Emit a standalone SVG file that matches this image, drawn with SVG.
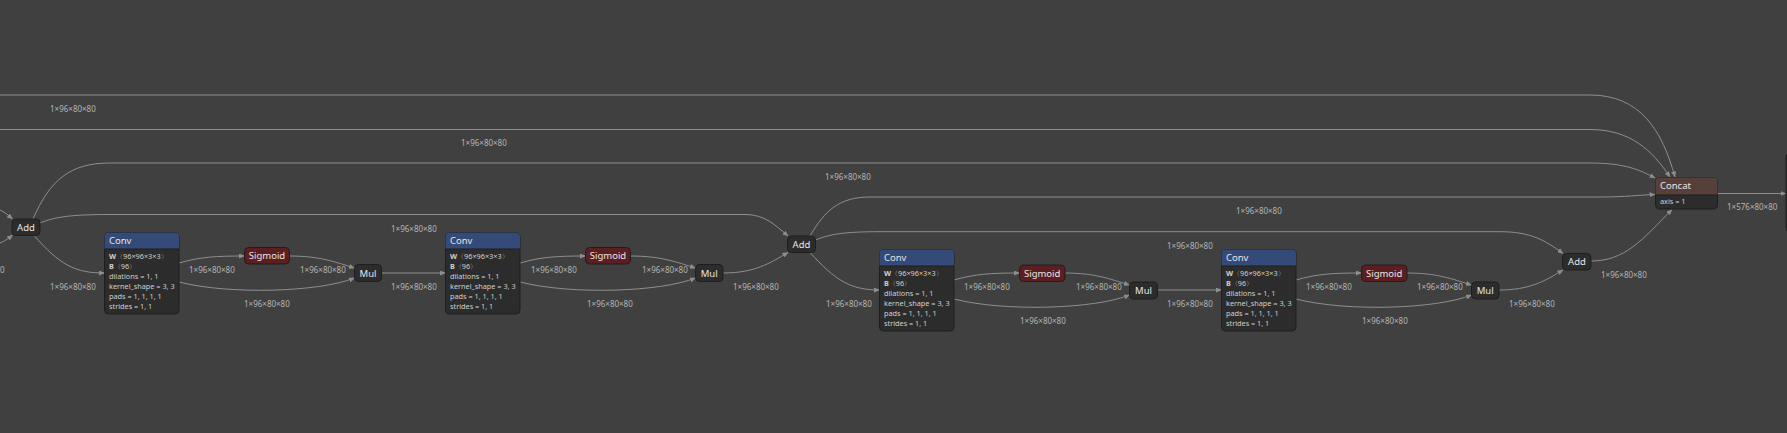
<svg xmlns="http://www.w3.org/2000/svg" width="1787" height="433" viewBox="0 0 1787 433">
<defs>
<marker id="arr" markerWidth="6" markerHeight="5" refX="5.5" refY="2.5" orient="auto" markerUnits="userSpaceOnUse">
<path d="M0,0 L6,2.5 L0,5 Z" fill="#8e8e8e"/>
</marker>
</defs>
<style>
.bg{fill:#404040}
.e{fill:none;stroke:#8e8e8e;stroke-width:1;marker-end:url(#arr)}
.lbl{font-family:"Noto Sans","DejaVu Sans",sans-serif;font-size:8px;fill:#b4b4b4}
.nb{fill:#2c2c2c;stroke:#1e1e1e;stroke-width:1}
.title{font-family:"Noto Sans","DejaVu Sans",sans-serif;font-size:9.5px;fill:#e6e6e6}
.attr{font-family:"Noto Sans","DejaVu Sans",sans-serif;font-size:7.3px;fill:#d0d0d0}
.b{font-weight:bold}
.conv{fill:#344a78}
.sig{fill:#5c1e20;stroke:#1e1e1e;stroke-width:1}
.cat{fill:#58403a}
.sep{stroke:#1e1e1e;stroke-width:1}
</style>
<rect class="bg" x="0" y="0" width="1787" height="433"/>

<g id="connectors">
<path class="e" d="M0,95 H1590 C1640,95 1662,130 1675,177"/>
<path class="e" d="M0,129.5 H1590 C1630,129.5 1652,150 1670,177"/>
<path class="e" d="M33,219 C50,180 70,163 110,163 H1590 C1625,163 1640,170 1655,178"/>
<path class="e" d="M810,236 C825,210 840,197 870,197 H1600 C1625,197 1640,195 1655,194.5"/>
<path class="e" d="M1591,261 C1625,261 1642,240 1672,209.5"/>
<path class="e" d="M40,223 C55,217 70,214.5 110,214.5 H745 C765,214.5 775,225 788,236"/>
<path class="e" d="M815.5,240 C830,234 845,231.7 880,231.7 H1500 C1530,231.7 1545,240 1563,253.5"/>
<path class="e" d="M0,210 C5,212 9,216 12.5,219"/>
<path class="e" d="M0,243 C5,241 9,238 12.5,235"/>
<path class="e" d="M1717.5,193.5 H1786"/>

<path class="e" d="M34,235.5 C60,265 75,273 104.5,273"/>
<path class="e" d="M179,263 C200,257 215,256 244.5,256"/>
<path class="e" d="M179,282 C230,295 320,292 354.5,278"/>
<path class="e" d="M289.5,256 C320,256 335,262 354.5,268"/>
<path class="e" d="M381.5,273 H445.5"/>

<path class="e" d="M520,263 C541,257 556,256 585.5,256"/>
<path class="e" d="M520,282 C571,295 661,292 695.5,278"/>
<path class="e" d="M630.5,256 C661,256 676,262 695.5,268"/>
<path class="e" d="M723,273 C755,273 770,263 788,252.5"/>

<path class="e" d="M810,252.5 C835,280 850,290 879.5,290"/>
<path class="e" d="M954,280 C975,274 990,273 1019.5,273"/>
<path class="e" d="M954,299 C1005,312 1095,309 1129.5,295"/>
<path class="e" d="M1065,273 C1095,273 1110,279 1129.5,285"/>
<path class="e" d="M1157.5,290 H1221.5"/>

<path class="e" d="M1296,280 C1317,274 1332,273 1361.5,273"/>
<path class="e" d="M1296,299 C1347,312 1437,309 1471.5,295"/>
<path class="e" d="M1407,273 C1437,273 1452,279 1471.5,285"/>
<path class="e" d="M1499,290 C1530,290 1545,281 1563,270"/>
</g>

<g id="labels">
<text class="lbl" x="50" y="112">1×96×80×80</text>
<text class="lbl" x="461" y="146">1×96×80×80</text>
<text class="lbl" x="825" y="180">1×96×80×80</text>
<text class="lbl" x="1236" y="214">1×96×80×80</text>
<text class="lbl" x="391" y="232">1×96×80×80</text>
<text class="lbl" x="1167" y="249">1×96×80×80</text>
<text class="lbl" x="50" y="290">1×96×80×80</text>
<text class="lbl" x="0" y="273">0</text>
<text class="lbl" x="189" y="273">1×96×80×80</text>
<text class="lbl" x="300" y="273">1×96×80×80</text>
<text class="lbl" x="244" y="307">1×96×80×80</text>
<text class="lbl" x="391" y="290">1×96×80×80</text>
<text class="lbl" x="531" y="273">1×96×80×80</text>
<text class="lbl" x="642" y="273">1×96×80×80</text>
<text class="lbl" x="587" y="307">1×96×80×80</text>
<text class="lbl" x="733" y="290">1×96×80×80</text>
<text class="lbl" x="826" y="307">1×96×80×80</text>
<text class="lbl" x="964" y="290">1×96×80×80</text>
<text class="lbl" x="1076" y="290">1×96×80×80</text>
<text class="lbl" x="1020" y="324">1×96×80×80</text>
<text class="lbl" x="1167" y="307">1×96×80×80</text>
<text class="lbl" x="1306" y="290">1×96×80×80</text>
<text class="lbl" x="1417" y="290">1×96×80×80</text>
<text class="lbl" x="1362" y="324">1×96×80×80</text>
<text class="lbl" x="1509" y="307">1×96×80×80</text>
<text class="lbl" x="1601" y="278">1×96×80×80</text>
<text class="lbl" x="1727" y="210">1×576×80×80</text>
</g>

<g id="add1"><rect class="nb" x="12" y="219" width="28" height="16.5" rx="4"/><text class="title" x="26" y="230.5" text-anchor="middle">Add</text></g>
<g id="add2"><rect class="nb" x="787.5" y="236" width="28" height="16.5" rx="4"/><text class="title" x="801.5" y="247.5" text-anchor="middle">Add</text></g>
<g id="add3"><rect class="nb" x="1562.5" y="253.5" width="28.5" height="16.5" rx="4"/><text class="title" x="1577" y="265" text-anchor="middle">Add</text></g>

<g id="conv1">
<rect class="nb" x="104.5" y="232.5" width="74.5" height="81.5" rx="4"/>
<path class="conv" d="M104.5,249 V236.5 Q104.5,232.5 108.5,232.5 H175 Q179,232.5 179,236.5 V249 Z"/>
<line class="sep" x1="104.5" y1="249" x2="179" y2="249"/>
<text class="title" x="109" y="243.5">Conv</text>
<text class="attr" x="109" y="258.5"><tspan class="b">W</tspan>〈96×96×3×3〉</text>
<text class="attr" x="109" y="268.5"><tspan class="b">B</tspan>〈96〉</text>
<text class="attr" x="109" y="278.5">dilations = 1, 1</text>
<text class="attr" x="109" y="288.5">kernel_shape = 3, 3</text>
<text class="attr" x="109" y="298.5">pads = 1, 1, 1, 1</text>
<text class="attr" x="109" y="308.5">strides = 1, 1</text>
</g>
<g id="sigmoid1"><rect class="sig" x="244.5" y="247.5" width="45" height="16.5" rx="4"/><text class="title" x="267" y="259" text-anchor="middle">Sigmoid</text></g>
<g id="mul1"><rect class="nb" x="354.5" y="264.5" width="27" height="17" rx="4"/><text class="title" x="368" y="276.5" text-anchor="middle">Mul</text></g>

<g id="conv2">
<rect class="nb" x="445.5" y="232.5" width="74.5" height="81.5" rx="4"/>
<path class="conv" d="M445.5,249 V236.5 Q445.5,232.5 449.5,232.5 H516 Q520,232.5 520,236.5 V249 Z"/>
<line class="sep" x1="445.5" y1="249" x2="520" y2="249"/>
<text class="title" x="450" y="243.5">Conv</text>
<text class="attr" x="450" y="258.5"><tspan class="b">W</tspan>〈96×96×3×3〉</text>
<text class="attr" x="450" y="268.5"><tspan class="b">B</tspan>〈96〉</text>
<text class="attr" x="450" y="278.5">dilations = 1, 1</text>
<text class="attr" x="450" y="288.5">kernel_shape = 3, 3</text>
<text class="attr" x="450" y="298.5">pads = 1, 1, 1, 1</text>
<text class="attr" x="450" y="308.5">strides = 1, 1</text>
</g>
<g id="sigmoid2"><rect class="sig" x="585.5" y="247.5" width="45" height="16.5" rx="4"/><text class="title" x="608" y="259" text-anchor="middle">Sigmoid</text></g>
<g id="mul2"><rect class="nb" x="695.5" y="264.5" width="27.5" height="17" rx="4"/><text class="title" x="709.2" y="276.5" text-anchor="middle">Mul</text></g>

<g id="conv3">
<rect class="nb" x="879.5" y="249.5" width="74.5" height="81.5" rx="4"/>
<path class="conv" d="M879.5,266 V253.5 Q879.5,249.5 883.5,249.5 H950 Q954,249.5 954,253.5 V266 Z"/>
<line class="sep" x1="879.5" y1="266" x2="954" y2="266"/>
<text class="title" x="884" y="260.5">Conv</text>
<text class="attr" x="884" y="275.5"><tspan class="b">W</tspan>〈96×96×3×3〉</text>
<text class="attr" x="884" y="285.5"><tspan class="b">B</tspan>〈96〉</text>
<text class="attr" x="884" y="295.5">dilations = 1, 1</text>
<text class="attr" x="884" y="305.5">kernel_shape = 3, 3</text>
<text class="attr" x="884" y="315.5">pads = 1, 1, 1, 1</text>
<text class="attr" x="884" y="325.5">strides = 1, 1</text>
</g>
<g id="sigmoid3"><rect class="sig" x="1019.5" y="265" width="45.5" height="16.5" rx="4"/><text class="title" x="1042.2" y="276.5" text-anchor="middle">Sigmoid</text></g>
<g id="mul3"><rect class="nb" x="1129.5" y="282" width="28" height="17" rx="4"/><text class="title" x="1143.5" y="294" text-anchor="middle">Mul</text></g>

<g id="conv4">
<rect class="nb" x="1221.5" y="249.5" width="74.5" height="81.5" rx="4"/>
<path class="conv" d="M1221.5,266 V253.5 Q1221.5,249.5 1225.5,249.5 H1292 Q1296,249.5 1296,253.5 V266 Z"/>
<line class="sep" x1="1221.5" y1="266" x2="1296" y2="266"/>
<text class="title" x="1226" y="260.5">Conv</text>
<text class="attr" x="1226" y="275.5"><tspan class="b">W</tspan>〈96×96×3×3〉</text>
<text class="attr" x="1226" y="285.5"><tspan class="b">B</tspan>〈96〉</text>
<text class="attr" x="1226" y="295.5">dilations = 1, 1</text>
<text class="attr" x="1226" y="305.5">kernel_shape = 3, 3</text>
<text class="attr" x="1226" y="315.5">pads = 1, 1, 1, 1</text>
<text class="attr" x="1226" y="325.5">strides = 1, 1</text>
</g>
<g id="sigmoid4"><rect class="sig" x="1361.5" y="265" width="45.5" height="16.5" rx="4"/><text class="title" x="1384.2" y="276.5" text-anchor="middle">Sigmoid</text></g>
<g id="mul4"><rect class="nb" x="1471.5" y="282" width="27.5" height="17" rx="4"/><text class="title" x="1485.2" y="294" text-anchor="middle">Mul</text></g>

<g id="concat">
<rect class="nb" x="1655.5" y="177.5" width="62" height="31.5" rx="4"/>
<path class="cat" d="M1655.5,195 V181.5 Q1655.5,177.5 1659.5,177.5 H1713.5 Q1717.5,177.5 1717.5,181.5 V195 Z"/>
<line class="sep" x1="1655.5" y1="195" x2="1717.5" y2="195"/>
<text class="title" x="1660" y="189">Concat</text>
<text class="attr" x="1660" y="204">axis = 1</text>
</g>

<g id="next-node"><rect class="nb" x="1786" y="153" width="20" height="79" rx="4"/></g>
</svg>
